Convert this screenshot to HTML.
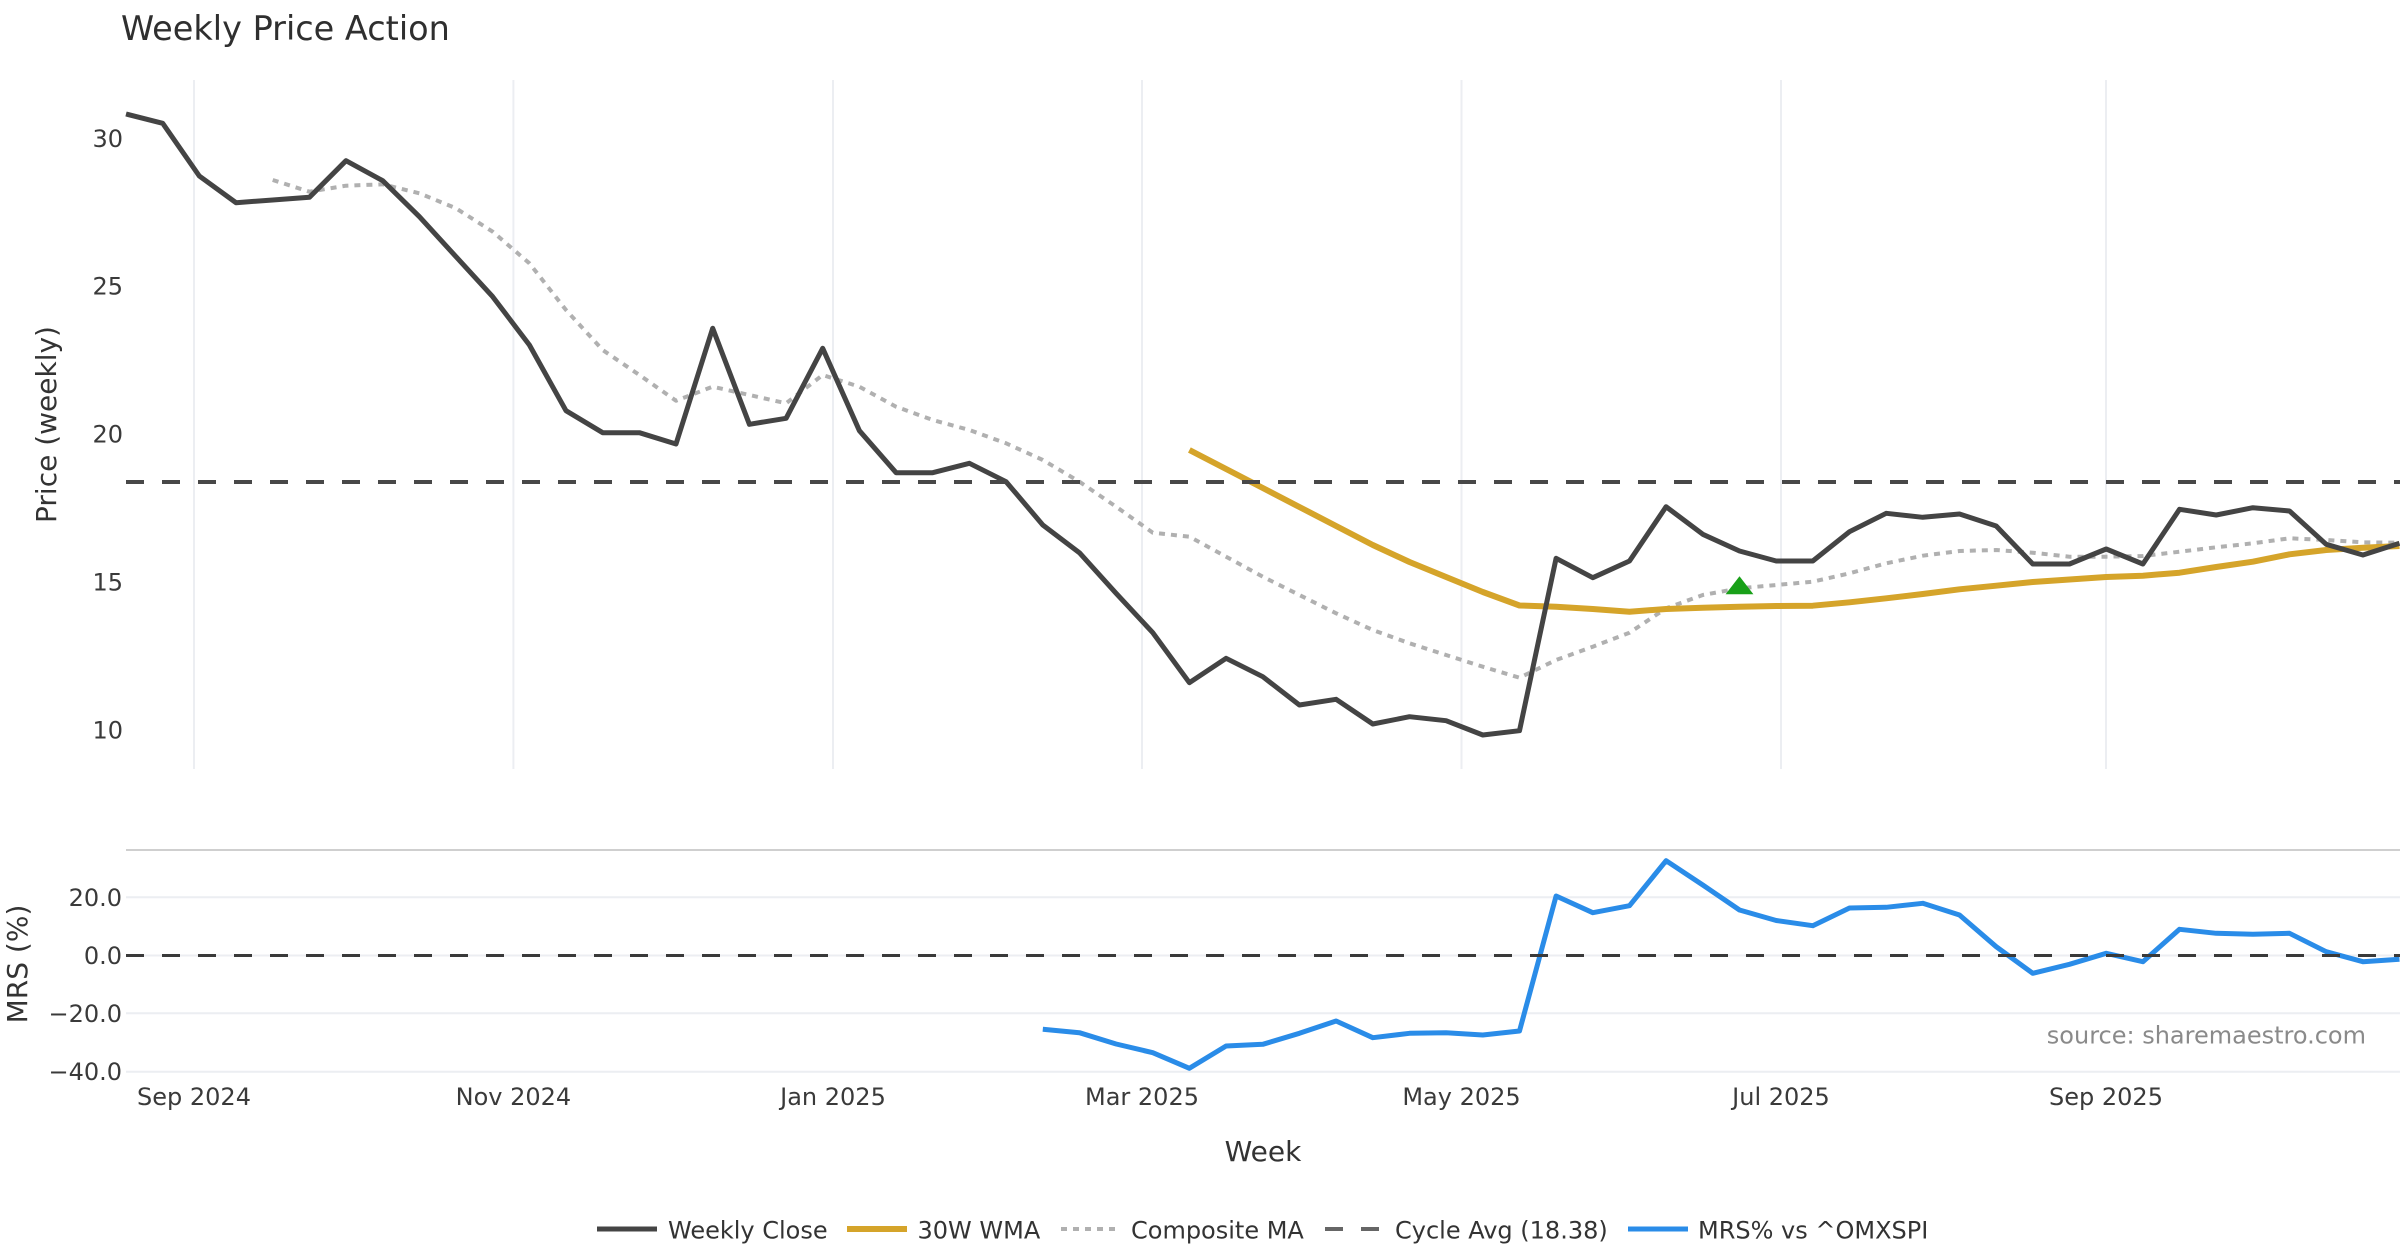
<!DOCTYPE html>
<html>
<head>
<meta charset="utf-8">
<style>
  html,body{margin:0;padding:0;background:#fff;}
  svg{display:block;font-family:"DejaVu Sans","Liberation Sans",sans-serif;}
</style>
</head>
<body>
<svg width="2400" height="1260" viewBox="0 0 2400 1260" xmlns="http://www.w3.org/2000/svg">
  <rect x="0" y="0" width="2400" height="1260" fill="#ffffff"/>

  <!-- Title -->
  <text x="121" y="40" font-size="33.5" fill="#2f2f2f">Weekly Price Action</text>

  <!-- Top panel vertical grid -->
  <g stroke="#eceef2" stroke-width="2">
    <line x1="194" y1="80" x2="194" y2="769"/>
    <line x1="513.4" y1="80" x2="513.4" y2="769"/>
    <line x1="833" y1="80" x2="833" y2="769"/>
    <line x1="1142" y1="80" x2="1142" y2="769"/>
    <line x1="1461.5" y1="80" x2="1461.5" y2="769"/>
    <line x1="1781" y1="80" x2="1781" y2="769"/>
    <line x1="2106" y1="80" x2="2106" y2="769"/>
  </g>

  <!-- Top y ticks -->
  <g font-size="24" fill="#3a3a3a" text-anchor="end">
    <text x="123" y="146.8">30</text>
    <text x="123" y="294.7">25</text>
    <text x="123" y="442.6">20</text>
    <text x="123" y="590.5">15</text>
    <text x="123" y="738.4">10</text>
  </g>
  <text transform="translate(46,424.5) rotate(-90)" font-size="28" fill="#333" text-anchor="middle" dy="10">Price (weekly)</text>

  <!-- Composite MA -->
  <polyline fill="none" stroke="#b0b0b0" stroke-width="4" stroke-dasharray="6,6" stroke-linejoin="round"
    points="272.7,180 309.4,191.7 346,185.7 382.7,184.3 419.4,193.3 456,208.3 492.7,231.7 529.4,263.3 566,310 602.7,350 639.4,375 676,400.7 712.7,386.7 749.4,395 786.1,403.3 822.7,375 859.4,386.7 896.1,406.7 932.7,420 969.4,430 1006.1,443.3 1042.8,460 1079.4,481.7 1116.1,506.7 1152.8,532.7 1189.4,536.7 1226.1,556.7 1262.8,576.7 1299.4,595 1336.1,613.3 1372.8,630 1409.5,643.3 1446.1,655 1482.8,666.7 1519.5,677.7 1556.1,660 1592.8,646.7 1629.5,632.7 1666.1,608.3 1702.8,595 1739.5,588.3 1776.2,585 1812.8,581.7 1849.5,573.3 1886.2,563.3 1922.8,555.7 1959.5,551 1996.2,550 2032.8,552.7 2069.5,556.7 2106.2,556.7 2142.9,556 2179.5,551.7 2216.2,547.3 2252.9,543.3 2289.5,538.3 2326.2,540 2362.9,542.3 2399.5,542.7"/>

  <!-- 30W WMA -->
  <polyline fill="none" stroke="#d5a42a" stroke-width="6" stroke-linejoin="round"
    points="1189.4,450 1226.1,469 1262.8,488 1299.4,507 1336.1,526 1372.8,545 1409.5,562 1446.1,577 1482.8,592 1519.5,605.5 1556.1,606.7 1592.8,609 1629.5,611.7 1666.1,609 1702.8,607.7 1739.5,606.7 1776.2,606 1812.8,605.7 1849.5,602.3 1886.2,598.3 1922.8,594 1959.5,589.3 1996.2,585.7 2032.8,582 2069.5,579.5 2106.2,577 2142.9,575.7 2179.5,572.7 2216.2,567 2252.9,561.7 2289.5,554.3 2326.2,550 2362.9,547.7 2399.5,546"/>

  <!-- Weekly Close -->
  <polyline fill="none" stroke="#444444" stroke-width="5" stroke-linejoin="round"
    points="126,114 162.7,123.3 199.3,176 236,202.7 272.7,200 309.4,197.3 346,160.7 382.7,180.7 419.4,216.7 456,256.7 492.7,296.7 529.4,345 566,410.7 602.7,432.7 639.4,432.7 676,444 712.7,328.3 749.4,424.3 786.1,418.3 822.7,348.3 859.4,430.7 896.1,472.7 932.7,472.7 969.4,463.3 1006.1,481.7 1042.8,525 1079.4,552.7 1116.1,593.3 1152.8,632.7 1189.4,682.7 1226.1,658.3 1262.8,676.7 1299.4,705 1336.1,699.3 1372.8,724 1409.5,716.7 1446.1,720.7 1482.8,735 1519.5,730.7 1556.1,558.3 1592.8,577.7 1629.5,561 1666.1,506.7 1702.8,534.3 1739.5,551 1776.2,561 1812.8,561 1849.5,531.7 1886.2,513.3 1922.8,517.3 1959.5,514 1996.2,526 2032.8,564 2069.5,564 2106.2,549 2142.9,564 2179.5,509.3 2216.2,515 2252.9,507.7 2289.5,511 2326.2,544.3 2362.9,555 2399.5,543.3"/>

  <!-- Cycle avg -->
  <line x1="126" y1="482" x2="2400" y2="482" stroke="#484848" stroke-width="4" stroke-dasharray="18,18"/>

  <!-- Green marker -->
  <polygon points="1739.5,576.3 1753.4,594.3 1725.6,594.3" fill="#19a019"/>

  <!-- Separator -->
  <line x1="126" y1="850" x2="2400" y2="850" stroke="#cfcfcf" stroke-width="2"/>

  <!-- MRS grid -->
  <g stroke="#eceef2" stroke-width="2">
    <line x1="126" y1="897.3" x2="2400" y2="897.3"/>
    <line x1="126" y1="955.5" x2="2400" y2="955.5"/>
    <line x1="126" y1="1013.3" x2="2400" y2="1013.3"/>
    <line x1="126" y1="1071.7" x2="2400" y2="1071.7"/>
  </g>
  <g font-size="24" fill="#3a3a3a" text-anchor="end">
    <text x="122" y="905.8">20.0</text>
    <text x="122" y="964">0.0</text>
    <text x="122" y="1021.8">−20.0</text>
    <text x="122" y="1080.2">−40.0</text>
  </g>
  <text transform="translate(17,964) rotate(-90)" font-size="28" fill="#333" text-anchor="middle" dy="10">MRS (%)</text>

  <!-- MRS line -->
  <polyline fill="none" stroke="#2a8ce8" stroke-width="5" stroke-linejoin="round"
    points="1042.8,1029.3 1079.4,1032.7 1116.1,1044 1152.8,1052.7 1189.4,1068.3 1226.1,1046 1262.8,1044.3 1299.4,1033.3 1336.1,1021 1372.8,1037.7 1409.5,1033.3 1446.1,1032.7 1482.8,1035 1519.5,1031 1556.1,896 1592.8,912.7 1629.5,905.7 1666.1,860.7 1702.8,885 1739.5,910 1776.2,920.5 1812.8,925.7 1849.5,908 1886.2,907.3 1922.8,903.3 1959.5,915 1996.2,946.7 2032.8,973.3 2069.5,964.3 2106.2,953.3 2142.9,961.7 2179.5,929.3 2216.2,933.3 2252.9,934.3 2289.5,933.3 2326.2,951.7 2362.9,961.7 2399.5,959.3"/>

  <!-- Zero line -->
  <line x1="126" y1="955.5" x2="2400" y2="955.5" stroke="#3a3a3a" stroke-width="3" stroke-dasharray="18,18"/>

  <!-- source -->
  <text x="2366" y="1043.5" font-size="24" fill="#8a8a8a" text-anchor="end">source: sharemaestro.com</text>

  <!-- X tick labels -->
  <g font-size="24" fill="#3a3a3a" text-anchor="middle">
    <text x="194" y="1105">Sep 2024</text>
    <text x="513.4" y="1105">Nov 2024</text>
    <text x="833" y="1105">Jan 2025</text>
    <text x="1142" y="1105">Mar 2025</text>
    <text x="1461.5" y="1105">May 2025</text>
    <text x="1781" y="1105">Jul 2025</text>
    <text x="2106" y="1105">Sep 2025</text>
  </g>
  <text x="1263" y="1161" font-size="28" fill="#333" text-anchor="middle">Week</text>

  <!-- Legend -->
  <g font-size="24" fill="#333">
    <line x1="597" y1="1229" x2="657" y2="1229" stroke="#444444" stroke-width="5"/>
    <text x="668" y="1238.3">Weekly Close</text>
    <line x1="847" y1="1229" x2="907" y2="1229" stroke="#d5a42a" stroke-width="6"/>
    <text x="917.5" y="1238.3">30W WMA</text>
    <line x1="1061" y1="1229" x2="1117" y2="1229" stroke="#b0b0b0" stroke-width="4" stroke-dasharray="6,6"/>
    <text x="1131" y="1238.3">Composite MA</text>
    <line x1="1325" y1="1229" x2="1380" y2="1229" stroke="#666" stroke-width="4" stroke-dasharray="18,18"/>
    <text x="1395" y="1238.3">Cycle Avg (18.38)</text>
    <line x1="1628" y1="1229" x2="1688" y2="1229" stroke="#2a8ce8" stroke-width="5"/>
    <text x="1698" y="1238.3">MRS% vs ^OMXSPI</text>
  </g>
</svg>
</body>
</html>
